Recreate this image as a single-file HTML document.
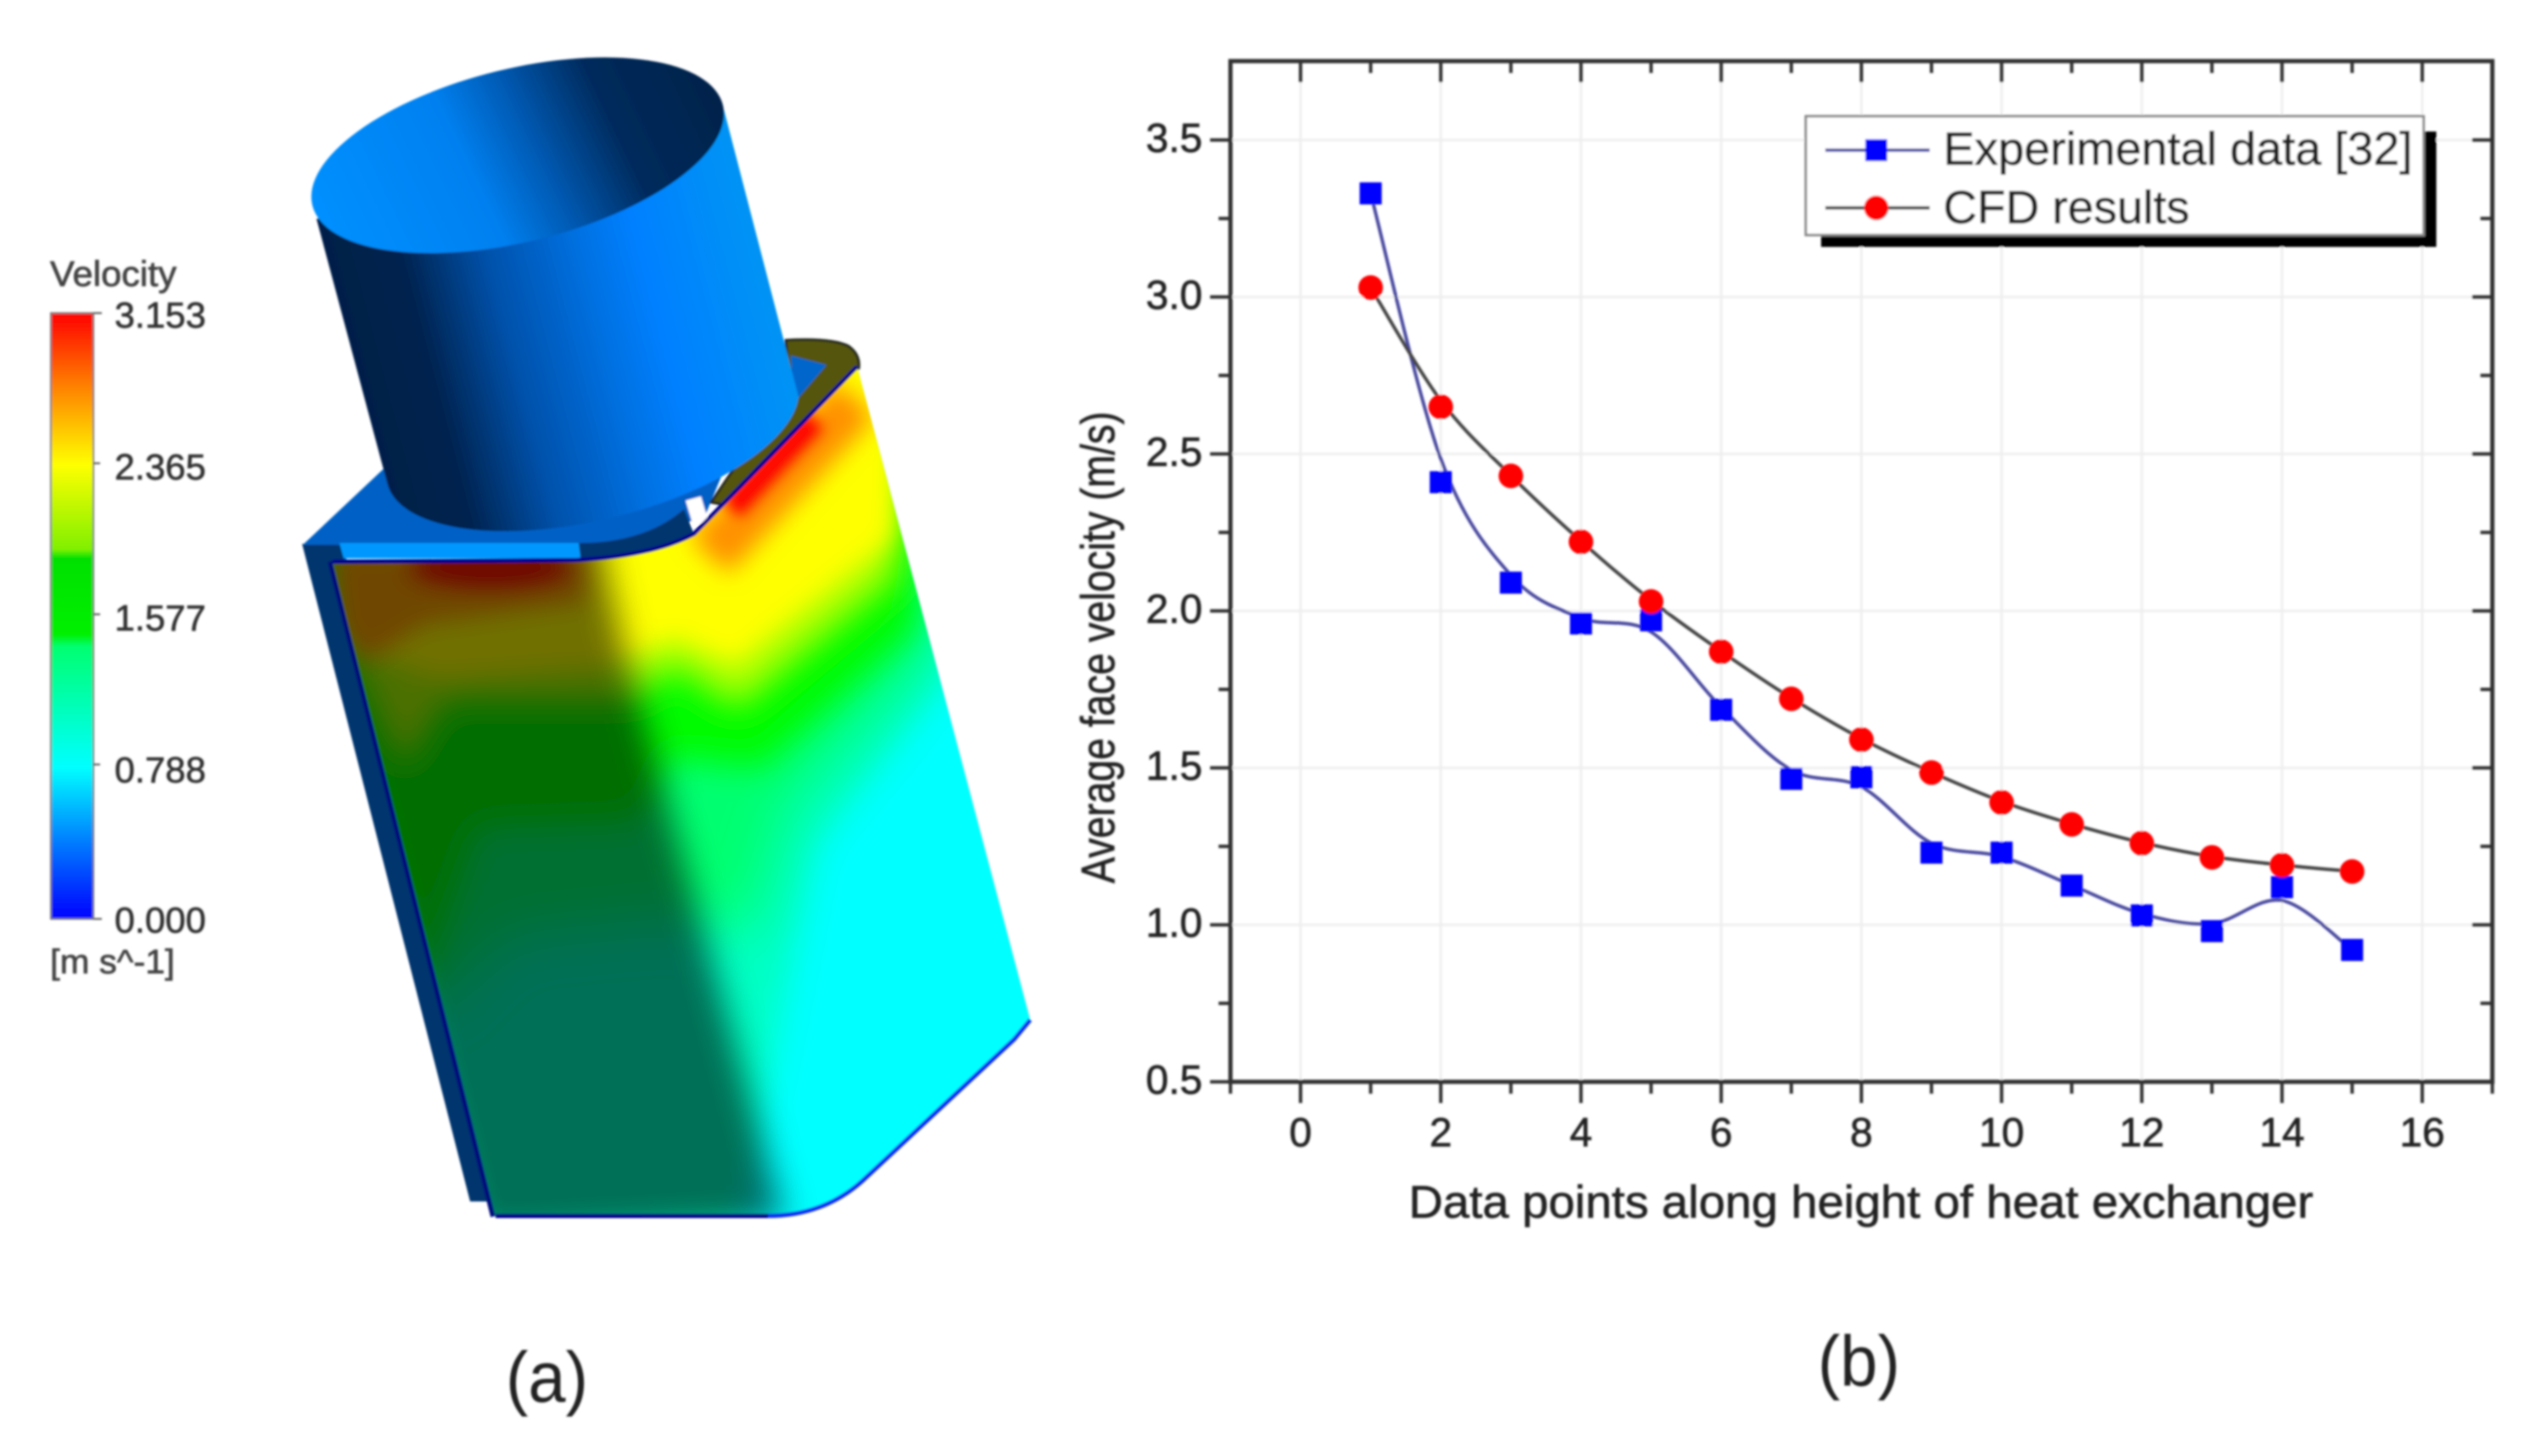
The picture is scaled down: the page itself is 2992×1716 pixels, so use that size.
<!DOCTYPE html>
<html lang="en">
<head>
<meta charset="utf-8">
<title>Velocity contour and average face velocity chart</title>
<style>
html,body{margin:0;padding:0;background:#fff;}
svg{display:block;}
text{font-family:"Liberation Sans",sans-serif;}
</style>
</head>
<body>
<svg xmlns="http://www.w3.org/2000/svg" id="figure" width="2992" height="1716" viewBox="0 0 2992 1716">
<defs>
  <filter id="soft" filterUnits="userSpaceOnUse" x="0" y="0" width="2992" height="1716"><feGaussianBlur stdDeviation="1.3"/></filter>
  <filter id="b8" filterUnits="userSpaceOnUse" x="0" y="0" width="2992" height="1716"><feGaussianBlur stdDeviation="8"/></filter>
  <filter id="b14" filterUnits="userSpaceOnUse" x="0" y="0" width="2992" height="1716"><feGaussianBlur stdDeviation="14"/></filter>
  <filter id="b20" filterUnits="userSpaceOnUse" x="0" y="0" width="2992" height="1716"><feGaussianBlur stdDeviation="20"/></filter>
  <filter id="b32" filterUnits="userSpaceOnUse" x="0" y="0" width="2992" height="1716"><feGaussianBlur stdDeviation="32"/></filter>
  <linearGradient id="colorbar-gradient" x1="0" y1="0" x2="0" y2="1">
    <stop offset="0" stop-color="#ff0000"/>
    <stop offset="0.12" stop-color="#ff8000"/>
    <stop offset="0.25" stop-color="#ffff00"/>
    <stop offset="0.39" stop-color="#80f000"/>
    <stop offset="0.405" stop-color="#00e000"/>
    <stop offset="0.53" stop-color="#00f000"/>
    <stop offset="0.55" stop-color="#00ff70"/>
    <stop offset="0.75" stop-color="#00ffff"/>
    <stop offset="0.87" stop-color="#0080ff"/>
    <stop offset="1" stop-color="#0000ff"/>
  </linearGradient>
  <linearGradient id="cyl-body" gradientUnits="userSpaceOnUse" x1="373" y1="258" x2="857" y2="132">
    <stop offset="0" stop-color="#001f48"/>
    <stop offset="0.17" stop-color="#00234f"/>
    <stop offset="0.36" stop-color="#0050a8"/>
    <stop offset="0.58" stop-color="#0070e0"/>
    <stop offset="0.72" stop-color="#0080ff"/>
    <stop offset="1" stop-color="#0094f4"/>
  </linearGradient>
  <linearGradient id="cyl-inner" gradientUnits="userSpaceOnUse" x1="367" y1="232" x2="853" y2="129">
    <stop offset="0" stop-color="#0090ff"/>
    <stop offset="0.38" stop-color="#0080f0"/>
    <stop offset="0.55" stop-color="#0058b0"/>
    <stop offset="0.74" stop-color="#002a5c"/>
    <stop offset="1" stop-color="#00234a"/>
  </linearGradient>
  <clipPath id="front-clip"><path d="M392,662 L680,660 Q770,655 818,629 L1010,432 L1214,1202 L1195,1225 L1016,1392 Q970,1433 905,1433 L584,1433 Z"/></clipPath>
</defs>

<g filter="url(#soft)">

  <!-- Colour legend -->
  <g stroke="#333" stroke-width="0.7">
    <text x="59" y="337" font-size="42" fill="#444" textLength="149" lengthAdjust="spacingAndGlyphs">Velocity</text>
    <rect x="60" y="369" width="50" height="714" fill="url(#colorbar-gradient)" stroke="#777" stroke-width="2"/>
    <path d="M110,369H120M110,546H118M110,724H118M110,901H118M110,1083H120" stroke="#555" stroke-width="2" fill="none"/>
    <text x="135" y="386" font-size="43" fill="#333">3.153</text>
    <text x="135" y="565" font-size="43" fill="#333">2.365</text>
    <text x="135" y="743" font-size="43" fill="#333">1.577</text>
    <text x="135" y="922" font-size="43" fill="#333">0.788</text>
    <text x="135" y="1099" font-size="43" fill="#333">0.000</text>
    <text x="59" y="1147" font-size="40" fill="#444" textLength="147" lengthAdjust="spacingAndGlyphs">[m s^-1]</text>
  </g>

  <!-- 3D model -->
  <g>
    <polygon points="356,641 408,641 408,662 392,662 584,1433 578,1416 554,1416" fill="#00346e"/>
    <path d="M392,661 L584,1433" stroke="#00107c" stroke-width="12" fill="none"/>
    <polygon points="357,642 460,545 900,440 830,610 680,650 392,642" fill="#0060c6"/>
    <path d="M926,401 Q980,398 1000,408 Q1014,418 1012,434 L860,596 L838,592 L900,500 L930,450 Z" fill="#55540c" stroke="#22261a" stroke-width="3"/>
    <polygon points="932,419 974,430 940,470 933,440" fill="#0066cc"/>
    <polygon points="808,590 826,585 834,612 817,620" fill="#ffffff"/>
    <polygon points="400,640 682,640 684,658 405,658" fill="#0098ff"/>
    <path d="M682,640 Q760,640 806,600 L818,630 Q770,655 684,658 Z" fill="#00346e"/>

    <g clip-path="url(#front-clip)">
      <rect x="380" y="420" width="860" height="1030" fill="#00ffff"/>
      <polygon points="356,400 1110,400 1120,790 960,1000 900,1300 870,1460 500,1460" fill="#00ffc4" filter="url(#b20)"/>
      <polygon points="356,400 1110,400 1096,770 930,950 885,1100 800,1080 600,1100 500,1200" fill="#00ff70" filter="url(#b32)"/>
      <polygon points="356,400 1100,400 1079,740 896,905 788,892 752,964 560,971 524,1075 500,1171 410,861" fill="#00fb00" filter="url(#b20)"/>
      <polygon points="356,400 1070,400 1058,680 869,835 794,785 740,827 524,827 476,909 404,758" fill="#b0ff00" filter="url(#b20)"/>
      <polygon points="356,400 1060,400 1052,634 866,782 794,751 716,785 512,799 440,771" fill="#ffff00" filter="url(#b14)"/>
      <polygon points="392,650 690,650 690,710 500,735 430,780 400,740" fill="#ffa000" filter="url(#b14)"/>
      <path d="M836,655 L1008,470" stroke="#ff9000" stroke-width="62" fill="none" filter="url(#b14)"/>
      <path d="M862,600 L960,495" stroke="#ff0000" stroke-width="28" fill="none" filter="url(#b8)"/>
      <ellipse cx="578" cy="668" rx="95" ry="22" fill="#ff0000" filter="url(#b14)"/>
      <polygon points="340,620 704,620 734,758 925,1440 560,1460" fill="#000000" fill-opacity="0.56" filter="url(#b20)"/>
    </g>
    <path d="M392,662 L680,660 Q770,655 818,629 L1010,432" fill="none" stroke="#000090" stroke-width="5"/>
    <path d="M584,1433 L905,1433" fill="none" stroke="#000088" stroke-width="5"/>
    <path d="M905,1433 Q970,1433 1016,1392 L1195,1225 L1214,1202" fill="none" stroke="#1030f0" stroke-width="5"/>

    <path d="M373,258 L457,572 A249,102 -13.7 0 0 941,468 L853,129 Z" fill="url(#cyl-body)"/>
    <ellipse cx="610" cy="183" rx="249" ry="102" transform="rotate(-13.7 610 183)" fill="url(#cyl-inner)"/>
  </g>

  <text x="596" y="1652" font-size="84" fill="#222" textLength="97" lengthAdjust="spacingAndGlyphs">(a)</text>
  <text x="2142" y="1633" font-size="84" fill="#222" textLength="97" lengthAdjust="spacingAndGlyphs">(b)</text>

  <!-- Chart -->
  <g id="chart"></g>
</g>
</svg>

<script>
var categories = [1, 2, 3, 4, 5, 6, 7, 8, 9, 10, 11, 12, 13, 14, 15];
var experimentalValues = [3.33, 2.41, 2.09, 1.96, 1.97, 1.685, 1.465, 1.47, 1.23, 1.23, 1.125, 1.03, 0.98, 1.12, 0.92];
var cfdValues = [3.03, 2.65, 2.43, 2.22, 2.03, 1.87, 1.72, 1.59, 1.485, 1.39, 1.32, 1.26, 1.215, 1.19, 1.17];
var xTickValues = [-1, 0, 1, 2, 3, 4, 5, 6, 7, 8, 9, 10, 11, 12, 13, 14, 15, 16, 17];
var xTickLabels = ["0", "2", "4", "6", "8", "10", "12", "14", "16"];
var yTickValues = [0.5, 0.75, 1, 1.25, 1.5, 1.75, 2, 2.25, 2.5, 2.75, 3, 3.25, 3.5];
var yTickLabels = ["0.5", "1.0", "1.5", "2.0", "2.5", "3.0", "3.5"];
var xTitle = "Data points along height of heat exchanger";
var yTitle = "Average face velocity (m/s)";
var legendLabels = ["Experimental data [32]", "CFD results"];

var NS = "http://www.w3.org/2000/svg";
var chart = document.getElementById("chart");
var plot = {left: 1450, right: 2937, top: 72, bottom: 1275};
var xMin = -1, xMax = 17, yMin = 0.5, yMax = 3.7514;
var textInk = "#222222";

function xScale(v) { return plot.left + (v - xMin) / (xMax - xMin) * (plot.right - plot.left); }
function yScale(v) { return plot.bottom - (v - yMin) / (yMax - yMin) * (plot.bottom - plot.top); }

function make(tag, props, parent) {
  var el = document.createElementNS(NS, tag);
  for (var k in props) { el.setAttribute(k, props[k]); }
  (parent || chart).appendChild(el);
  return el;
}

function smoothSeries(vals) {
  return vals.map(function (v, i) {
    if (i === 0 || i === vals.length - 1) { return v; }
    return v + 0.25 * ((vals[i - 1] + vals[i + 1]) / 2 - v);
  });
}

function curvePath(xs, ys) {
  var pts = xs.map(function (x, i) { return [xScale(x), yScale(ys[i])]; });
  var d = "M" + pts[0][0].toFixed(1) + "," + pts[0][1].toFixed(1);
  for (var i = 0; i < pts.length - 1; i++) {
    var p0 = pts[Math.max(i - 1, 0)], p1 = pts[i], p2 = pts[i + 1], p3 = pts[Math.min(i + 2, pts.length - 1)];
    var c1x = p1[0] + (p2[0] - p0[0]) / 6, c1y = p1[1] + (p2[1] - p0[1]) / 6;
    var c2x = p2[0] - (p3[0] - p1[0]) / 6, c2y = p2[1] - (p3[1] - p1[1]) / 6;
    d += " C" + c1x.toFixed(1) + "," + c1y.toFixed(1) + " " + c2x.toFixed(1) + "," + c2y.toFixed(1) + " " + p2[0].toFixed(1) + "," + p2[1].toFixed(1);
  }
  return d;
}

/* grid */
xTickLabels.forEach(function (label) {
  var gx = xScale(Number(label));
  var line = make("line", {x1: gx, x2: gx, y1: plot.top, y2: plot.bottom, stroke: "#efefef", "stroke-width": 3});
  
  
});
yTickLabels.forEach(function (label) {
  if (Number(label) === yMin) { return; }
  var gy = yScale(Number(label));
  var line = make("line", {x1: plot.left, x2: plot.right, y1: gy, y2: gy, stroke: "#efefef", "stroke-width": 3});
  
  
});

/* ticks */
xTickValues.forEach(function (v) {
  var tx = xScale(v);
  var len = (((v % 2) + 2) % 2 === 0) ? 25 : 14;
  var bottomTick = make("line", {x1: tx, x2: tx, y1: plot.bottom, y2: plot.bottom + len, stroke: "#333", "stroke-width": 4});
  
  
  if (v !== xMin && v !== xMax) {
    var topTick = make("line", {x1: tx, x2: tx, y1: plot.top, y2: plot.top + len, stroke: "#333", "stroke-width": 4});
    
    
  }
});
yTickValues.forEach(function (v) {
  var ty = yScale(v);
  var isMajor = Math.abs(v * 2 - Math.round(v * 2)) < 1e-6;
  var len = isMajor ? 24 : 14;
  var leftTick = make("line", {x1: plot.left - len, x2: plot.left, y1: ty, y2: ty, stroke: "#333", "stroke-width": 4});
  
  
  if (v !== yMin) {
    var rightTick = make("line", {x1: plot.right - len, x2: plot.right, y1: ty, y2: ty, stroke: "#333", "stroke-width": 4});
    
    
  }
});

/* tick labels */
xTickLabels.forEach(function (label) {
  var t = make("text", {x: xScale(Number(label)), y: 1351, "font-size": 48, "text-anchor": "middle", fill: textInk, stroke: textInk, "stroke-width": 0.7});
  t.textContent = label;
  
  
});
yTickLabels.forEach(function (label) {
  var t = make("text", {x: 1417, y: yScale(Number(label)) + 14, "font-size": 48, "text-anchor": "end", fill: textInk, stroke: textInk, "stroke-width": 0.7});
  t.textContent = label;
  
  
});

/* axis titles */
var xt = make("text", {x: 1660, y: 1435, "font-size": 54, fill: textInk, stroke: textInk, "stroke-width": 0.7, textLength: 1066, lengthAdjust: "spacingAndGlyphs"});
xt.textContent = xTitle;


var yt = make("text", {x: 0, y: 0, "font-size": 56, fill: textInk, stroke: textInk, "stroke-width": 0.7, "text-anchor": "middle", textLength: 556, lengthAdjust: "spacingAndGlyphs", transform: "translate(1313,763) rotate(-90)"});
yt.textContent = yTitle;



/* frame */
var frame = make("rect", {x: plot.left, y: plot.top, width: plot.right - plot.left, height: plot.bottom - plot.top, fill: "none", stroke: "#333", "stroke-width": 5});



/* series lines */
var expLine = make("path", {d: curvePath(categories, smoothSeries(experimentalValues)), fill: "none", stroke: "#4a4aa0", "stroke-width": 4});


var cfdLine = make("path", {d: curvePath(categories, smoothSeries(cfdValues)), fill: "none", stroke: "#444444", "stroke-width": 4});



/* series markers */
categories.forEach(function (c, i) {
  var cx = xScale(c), cy = yScale(experimentalValues[i]);
  var sq = make("rect", {x: cx - 13, y: cy - 13, width: 26, height: 26, fill: "#0000ff"});
  
  
});
categories.forEach(function (c, i) {
  var dot = make("circle", {cx: xScale(c), cy: yScale(cfdValues[i]), r: 14.5, fill: "#ff0000"});
  
  
});

/* legend */
var shadow = make("path", {d: "M2146,276 H2856 V155 H2871 V291 H2146 Z", fill: "#000"});


var box = make("rect", {x: 2128, y: 137, width: 728, height: 140, fill: "#fff", stroke: "#888", "stroke-width": 3});


var l1 = make("line", {x1: 2151, x2: 2274, y1: 177, y2: 177, stroke: "#4a4aa0", "stroke-width": 4});


var m1 = make("rect", {x: 2198, y: 164, width: 26, height: 26, fill: "#0000ff"});


var t1 = make("text", {x: 2290, y: 194, "font-size": 55, fill: textInk, stroke: textInk, "stroke-width": 0.7, textLength: 553, lengthAdjust: "spacingAndGlyphs"});
t1.textContent = legendLabels[0];


var l2 = make("line", {x1: 2151, x2: 2274, y1: 245, y2: 245, stroke: "#444", "stroke-width": 4});


var m2 = make("circle", {cx: 2211, cy: 245, r: 14.5, fill: "#ff0000"});


var t2 = make("text", {x: 2290, y: 263, "font-size": 55, fill: textInk, stroke: textInk, "stroke-width": 0.7});
t2.textContent = legendLabels[1];


</script>
</body>
</html>
